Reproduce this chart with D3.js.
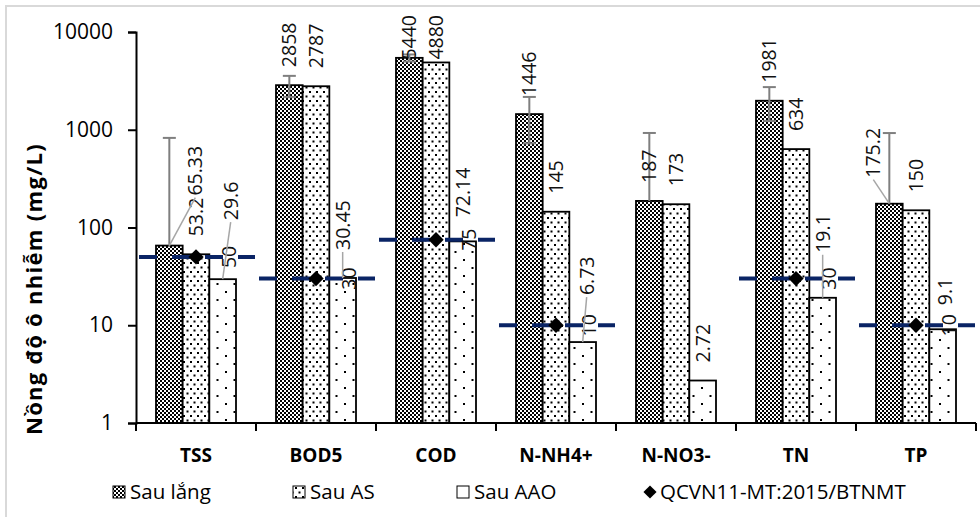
<!DOCTYPE html>
<html><head><meta charset="utf-8">
<script src="https://cdn.jsdelivr.net/npm/d3@7"></script>
<style>html,body{margin:0;padding:0;background:#fff;}svg{display:block;}</style>
</head><body>
<svg id="chart" width="980" height="517"></svg>
<script>
// ---- data ----
const categories = ["TSS", "BOD5", "COD", "N-NH4+", "N-NO3-", "TN", "TP"];
const sauLang = [65.33, 2858, 5440, 1446, 187, 1981, 175.2];
const sauAS = [53.2, 2787, 4880, 145, 173, 634, 150];
const sauAAO = [29.6, 30.45, 72.14, 6.73, 2.72, 19.1, 9.1];
const qcvn = [50, 30, 75, 10, null, 30, 10];
const sauLangErr = [760, 700, 450, 720, 740, 750, 750];
const yTicks = [1, 10, 100, 1000, 10000];
const seriesNames = ["Sau lắng", "Sau AS", "Sau AAO"];
const qcvnName = "QCVN11-MT:2015/BTNMT";
const yTitle = "Nồng độ ô nhiễm (mg/L)";

// ---- layout (label nudges, mimicking the original's manual placement) ----
const labelNudge = {
  "0-0": [26, -32, true], "0-2": [8, -41, true], "1-2": [0, -10, true],
  "2-2": [0, -6, false], "3-2": [4, -29, true], "5-2": [0, -27, true],
  "6-2": [2, -6, false], "6-0": [-16, -8, true]
};

const svg = d3.select("#chart");
const FONT = "'Open Sans', sans-serif";
const mLeft = 136, mRight = 976, mTop = 32, mBottom = 423;

// patterns
const defs = svg.append("defs");
const p1 = defs.append("pattern").attr("id", "pLang").attr("patternUnits", "userSpaceOnUse").attr("width", 4).attr("height", 4);
p1.append("rect").attr("width", 4).attr("height", 4).attr("fill", "#fff");
p1.append("rect").attr("width", 2).attr("height", 2).attr("fill", "#000");
p1.append("rect").attr("x", 2).attr("y", 2).attr("width", 2).attr("height", 2).attr("fill", "#000");
const p2 = defs.append("pattern").attr("id", "pAS").attr("patternUnits", "userSpaceOnUse").attr("width", 7).attr("height", 9);
p2.append("rect").attr("width", 7).attr("height", 9).attr("fill", "#fff");
p2.append("rect").attr("x", 1).attr("y", 1).attr("width", 2).attr("height", 2).attr("fill", "#000");
p2.append("rect").attr("x", 4.5).attr("y", 5.5).attr("width", 2).attr("height", 2).attr("fill", "#000");
const p3 = defs.append("pattern").attr("id", "pAAO").attr("patternUnits", "userSpaceOnUse").attr("width", 17).attr("height", 16);
p3.append("rect").attr("width", 17).attr("height", 16).attr("fill", "#fff");
p3.append("rect").attr("x", 4).attr("y", 3).attr("width", 2).attr("height", 2).attr("fill", "#000");
p3.append("rect").attr("x", 12.5).attr("y", 11).attr("width", 2).attr("height", 2).attr("fill", "#000");
const fills = ["url(#pLang)", "url(#pAS)", "url(#pAAO)"];

// border
svg.append("rect").attr("x", 6).attr("y", 6).attr("width", 1000).attr("height", 1000)
  .attr("fill", "none").attr("stroke", "#d9d9d9").attr("stroke-width", 2);

const x = d3.scaleBand().domain(categories).range([mLeft, mRight]).padding(0);
const xs = d3.scaleBand().domain([0, 1, 2]).range([20, 100]);
const y = d3.scaleLog().domain([1, 10000]).range([mBottom, mTop]);

const series = [sauLang, sauAS, sauAAO];

// bars
series.forEach((vals, si) => {
  svg.append("g").selectAll("rect").data(vals).join("rect")
    .attr("x", (d, i) => x(categories[i]) + xs(si))
    .attr("y", d => y(d))
    .attr("width", xs.bandwidth())
    .attr("height", d => mBottom - y(d))
    .attr("fill", fills[si]).attr("stroke", "#000").attr("stroke-width", 1.8);
});

// error bars on Sau lắng
const eg = svg.append("g").attr("stroke", "#7f7f7f").attr("stroke-width", 2);
sauLang.forEach((v, i) => {
  const cx = x(categories[i]) + xs(0) + xs.bandwidth() / 2;
  const hi = v + sauLangErr[i], lo = v - sauLangErr[i];
  const yLo = lo > 0 ? y(lo) : y(v);
  eg.append("line").attr("x1", cx).attr("x2", cx).attr("y1", y(hi)).attr("y2", yLo);
  eg.append("line").attr("x1", cx - 6.5).attr("x2", cx + 6.5).attr("y1", y(hi)).attr("y2", y(hi));
  if (lo > 0) eg.append("line").attr("x1", cx - 6.5).attr("x2", cx + 6.5).attr("y1", yLo).attr("y2", yLo);
});

// axes
const yAxis = svg.append("g").attr("transform", `translate(${mLeft},0)`)
  .call(d3.axisLeft(y).tickValues(yTicks).tickFormat(d3.format("d")).tickSize(8).tickPadding(15));
yAxis.select(".domain").attr("stroke", "#000").attr("stroke-width", 2);
yAxis.selectAll(".tick line").attr("stroke", "#000").attr("stroke-width", 2);
yAxis.selectAll("text").attr("font-family", FONT).attr("font-size", 21).attr("fill", "#000");

const xAxis = svg.append("g").attr("transform", `translate(0,${mBottom})`);
xAxis.append("line").attr("x1", mLeft).attr("x2", mRight).attr("stroke", "#000").attr("stroke-width", 2);
const bounds = categories.map(c => x(c)).concat([x(categories[categories.length - 1]) + x.bandwidth()]);
xAxis.selectAll("line.t").data(bounds).join("line").attr("class", "t")
  .attr("x1", d => d).attr("x2", d => d).attr("y1", 0).attr("y2", 8)
  .attr("stroke", "#000").attr("stroke-width", 2);
xAxis.selectAll("text").data(categories).join("text")
  .attr("x", d => x(d) + x.bandwidth() / 2).attr("y", 39)
  .attr("text-anchor", "middle").attr("font-family", FONT).attr("font-weight", "bold")
  .attr("font-size", 19).attr("fill", "#000").text(d => d);

// y title
svg.append("text").attr("transform", "translate(42,289) rotate(-90)")
  .attr("text-anchor", "middle").attr("font-family", FONT).attr("font-weight", "bold")
  .attr("font-size", 22).attr("letter-spacing", 1.3).attr("fill", "#000").text(yTitle);

// QCVN dashed lines + diamonds
const qg = svg.append("g");
qcvn.forEach((v, i) => {
  if (v == null) return;
  const x0 = x(categories[i]);
  qg.append("line").attr("x1", x0 + 3).attr("x2", x0 + x.bandwidth() - 1)
    .attr("y1", y(v)).attr("y2", y(v)).attr("stroke", "#0a2465").attr("stroke-width", 4)
    .attr("stroke-dasharray", "18,15");
});
qcvn.forEach((v, i) => {
  if (v == null) return;
  const cx = x(categories[i]) + x.bandwidth() / 2;
  qg.append("path").attr("d", d3.symbol(d3.symbolDiamond2, 150)())
    .attr("transform", `translate(${cx},${y(v)})`).attr("fill", "#000");
});

// data labels
const lg = svg.append("g").attr("font-family", FONT).attr("font-size", 19.5).attr("fill", "#111");
series.forEach((vals, si) => {
  vals.forEach((v, i) => {
    const cx = x(categories[i]) + xs(si) + xs.bandwidth() / 2;
    const t = lg.append("text").attr("text-anchor", "start").attr("dy", "0.36em").text(String(v));
    const len = t.node().getComputedTextLength();
    let by = y(v) - 18;
    if (by - len < 15) by = 15 + len;
    let lx = cx;
    const n = labelNudge[i + "-" + si];
    if (n) { lx += n[0]; by += n[1];
      if (n[2]) svg.append("line").attr("x1", cx).attr("y1", y(v)).attr("x2", lx).attr("y2", by + 2)
        .attr("stroke", "#a6a6a6").attr("stroke-width", 1.5);
    }
    t.attr("transform", `translate(${lx},${by}) rotate(-90)`);
  });
});
qcvn.forEach((v, i) => {
  if (v == null) return;
  const cx = x(categories[i]) + x.bandwidth() / 2 + 33;
  lg.append("text").attr("text-anchor", "middle").attr("dy", "0.36em")
    .attr("transform", `translate(${cx},${y(v)}) rotate(-90)`).text(String(v));
});

// legend
const legX = [113, 293, 457, 643];
const legY = 492;
const leg = svg.append("g").attr("font-family", FONT).attr("font-size", 20.5).attr("fill", "#000");
seriesNames.forEach((name, k) => {
  leg.append("rect").attr("x", legX[k]).attr("y", legY - 6).attr("width", 12).attr("height", 12)
    .attr("fill", fills[k]).attr("stroke", "#000").attr("stroke-width", 1);
  leg.append("text").attr("x", legX[k] + 17).attr("y", legY).attr("dy", "0.36em").text(name);
});
leg.append("path").attr("d", d3.symbol(d3.symbolDiamond2, 110)())
  .attr("transform", `translate(${legX[3] + 7},${legY})`).attr("fill", "#000");
leg.append("text").attr("x", legX[3] + 17).attr("y", legY).attr("dy", "0.36em").text(qcvnName);
</script>
</body></html>
